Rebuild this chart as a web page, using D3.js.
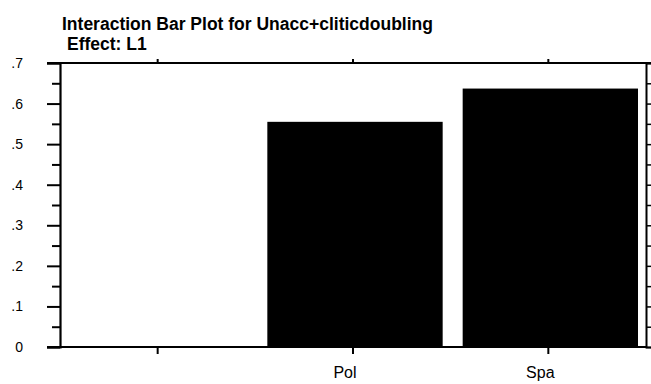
<!DOCTYPE html>
<html>
<head>
<meta charset="utf-8">
<script src="https://cdn.jsdelivr.net/npm/d3@7"></script>
<style>
  body { margin: 0; background: #fff; }
  text { font-family: Arial, "Liberation Sans", sans-serif; fill: #000; }
</style>
</head>
<body>
<svg width="651" height="384"></svg>
<script>
// data
const categories = ["", "Pol", "Spa"];
const means = [null, 0.555, 0.637];
const yTicks = [0, 0.1, 0.2, 0.3, 0.4, 0.5, 0.6, 0.7];
const yTickLabels = ["0", ".1", ".2", ".3", ".4", ".5", ".6", ".7"];

const svg = d3.select("svg"),
    margin = { top: 63, right: 5, bottom: 37, left: 60 },
    iwidth = +svg.attr("width") - margin.left - margin.right,
    iheight = +svg.attr("height") - margin.top - margin.bottom,
    g = svg.append("g").attr("transform", "translate(" + margin.left + "," + margin.top + ")");

const rows = categories.map((c, i) => ({ cat: c, val: means[i] }));

const x1 = d3.scaleBand()
  .domain(categories)
  .range([0, iwidth]);

const y1 = d3.scaleLinear()
  .domain([0, 0.7])
  .range([iheight, 0]);

// bars
g.selectAll("rect.bar")
  .data(rows.filter(d => d.val != null)).enter()
  .append("rect")
  .attr("class", "bar")
  .attr("x", d => x1(d.cat) + 12)
  .attr("width", x1.bandwidth() - 20)
  .attr("y", d => y1(d.val))
  .attr("height", d => iheight - y1(d.val))
  .attr("fill", "#000");

// left axis with major + minor ticks
const minor = d3.range(0.05, 0.7, 0.1);
g.append("g")
  .call(d3.axisLeft(y1).tickValues(minor).tickSize(8).tickFormat(""))
  .call(a => a.select(".domain").remove())
  .selectAll("line").attr("stroke-width", 2);

g.append("g")
  .call(d3.axisLeft(y1).tickValues(yTicks).tickSize(13).tickPadding(24)
    .tickFormat((d, i) => yTickLabels[i]))
  .call(a => a.select(".domain").attr("stroke-width", 2.2))
  .call(a => a.selectAll("line").attr("stroke-width", 2))
  .call(a => a.selectAll("text").attr("font-size", 14).attr("text-anchor", "end"));

// right axis (cut off by the picture edge)
g.append("g")
  .attr("transform", "translate(" + iwidth + ",0)")
  .call(d3.axisRight(y1).tickValues(d3.range(0, 0.71, 0.05)).tickSize(8).tickFormat(""))
  .call(a => a.select(".domain").attr("stroke-width", 2))
  .selectAll("line").attr("stroke-width", 1.5);

// bottom axis
g.append("g")
  .attr("transform", "translate(0," + iheight + ")")
  .call(d3.axisBottom(x1).tickSize(7).tickPadding(13))
  .call(a => a.select(".domain").attr("d", "M-13,0H" + iwidth).attr("stroke-width", 2))
  .call(a => a.selectAll("line").attr("stroke-width", 2))
  .selectAll("text").attr("font-size", 16).attr("dx", -8);

// top axis
g.append("g")
  .call(d3.axisTop(x1).tickSize(4).tickFormat(""))
  .call(a => a.select(".domain").attr("d", "M-13,0H" + (iwidth + 6)).attr("stroke-width", 2))
  .selectAll("line").attr("stroke-width", 2);

// titles
svg.append("text")
  .attr("x", 62).attr("y", 30)
  .attr("font-size", 17.5).attr("font-weight", "bold")
  .text("Interaction Bar Plot for Unacc+cliticdoubling");

svg.append("text")
  .attr("x", 67).attr("y", 50)
  .attr("font-size", 17.5).attr("font-weight", "bold")
  .text("Effect: L1");
</script>
</body>
</html>
